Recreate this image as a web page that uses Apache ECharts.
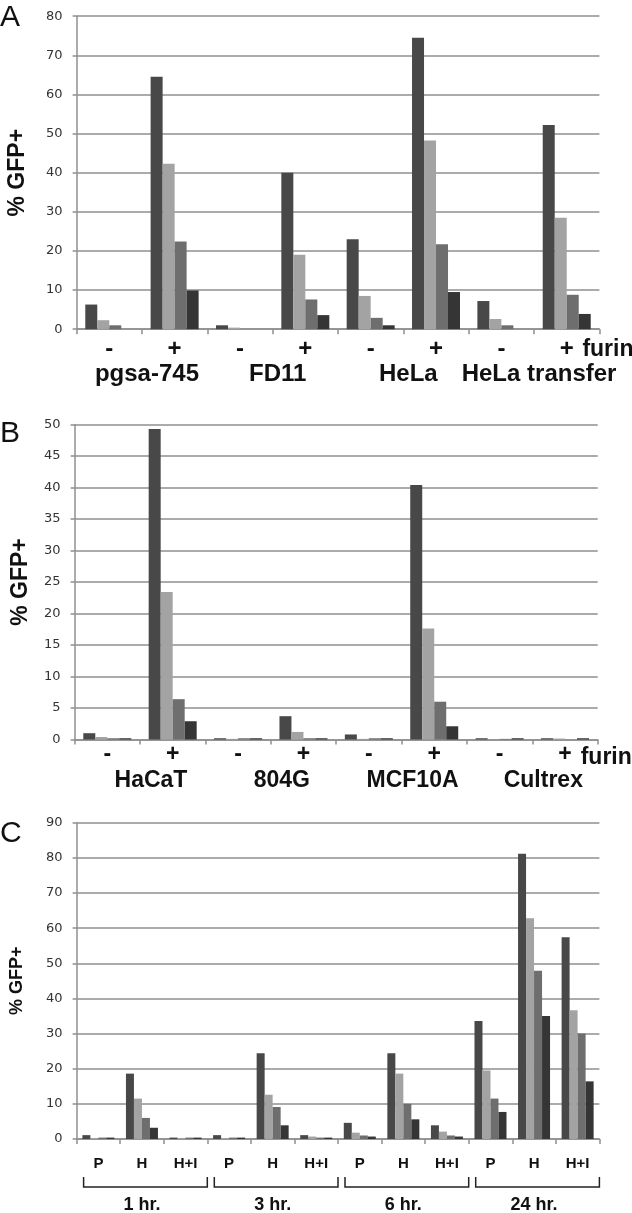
<!DOCTYPE html>
<html><head><meta charset="utf-8">
<script src="https://cdn.jsdelivr.net/npm/echarts@6/dist/echarts.min.js"></script>
<style>html,body{margin:0;padding:0;background:#fff}#c{width:632px;height:1213px}</style>
</head><body><div id="c"></div>
<script>
// ---- Panel A ----
const catsA = ['-', '+', '-', '+', '-', '+', '-', '+'];
const groupsA = ['pgsa-745', 'FD11', 'HeLa', 'HeLa transfer'];
const a1 = [6.3, 64.5, 1.0, 40.0, 23.0, 74.5, 7.2, 52.2];
const a2 = [2.3, 42.3, 0.4, 19.0, 8.5, 48.2, 2.6, 28.5];
const a3 = [1.0, 22.4, 0, 7.6, 2.9, 21.7, 1.0, 8.8];
const a4 = [0, 9.9, 0, 3.6, 1.0, 9.5, 0, 3.9];
const yA = [0, 80, 10];

// ---- Panel B ----
const catsB = ['-', '+', '-', '+', '-', '+', '-', '+'];
const groupsB = ['HaCaT', '804G', 'MCF10A', 'Cultrex'];
const b1 = [1.0, 49.3, 0.2, 3.7, 0.8, 40.4, 0.2, 0.2];
const b2 = [0.4, 23.4, 0.1, 1.2, 0.1, 17.6, 0, 0.15];
const b3 = [0.2, 6.4, 0.2, 0.2, 0.2, 6.0, 0.1, 0];
const b4 = [0.2, 2.9, 0.2, 0.2, 0.2, 2.1, 0.2, 0.2];
const yB = [0, 50, 5];

// ---- Panel C ----
const catsC = ['P', 'H', 'H+I', 'P', 'H', 'H+I', 'P', 'H', 'H+I', 'P', 'H', 'H+I'];
const groupsC = ['1 hr.', '3 hr.', '6 hr.', '24 hr.'];
const c1 = [1.1, 18.6, 0.4, 1.1, 24.4, 1.1, 4.6, 24.4, 3.9, 33.6, 81.2, 57.4];
const c2 = [0.3, 11.5, 0.3, 0.3, 12.6, 0.7, 1.8, 18.6, 2.1, 19.5, 62.8, 36.6];
const c3 = [0.4, 6.0, 0.4, 0.4, 9.1, 0.4, 1.0, 10.0, 1.0, 11.5, 47.9, 30.0];
const c4 = [0.4, 3.2, 0.4, 0.4, 3.9, 0.4, 0.7, 5.6, 0.7, 7.7, 35.0, 16.4];
const yC = [0, 90, 10];

const colors = ['#484848', '#a3a3a3', '#6e6e6e', '#353535'];
const GRID = '#8f8f8f';
const BOLD = 'Liberation Sans';

const chart = echarts.init(document.getElementById('c'), null, {renderer: 'canvas'});

function yAxis(grid, r, nameSize, nameGap) {
  return {
    type: 'value', gridIndex: grid, min: r[0], max: r[1], interval: r[2],
    name: '% GFP+', nameLocation: 'middle', nameGap: nameGap,
    nameTextStyle: {fontFamily: BOLD, fontWeight: 'bold', fontSize: nameSize, color: '#111'},
    axisLine: {show: true, lineStyle: {color: GRID, width: 1.5}},
    axisTick: {show: true, length: 4, lineStyle: {color: GRID, width: 1.5}},
    axisLabel: {margin: 14, fontFamily: 'DejaVu Sans', fontSize: 13, color: '#333'},
    splitLine: {show: true, lineStyle: {color: GRID, width: 1.5}}
  };
}
function xMain(grid, cats, size, margin, furin, furinPad) {
  const ax = {
    type: 'category', gridIndex: grid, data: cats, position: 'bottom',
    axisLine: {show: true, onZero: false, lineStyle: {color: GRID, width: 1.5}},
    axisTick: {show: true, length: 5, alignWithLabel: false, lineStyle: {color: GRID, width: 1.5}},
    axisLabel: {margin: margin, interval: 0, fontFamily: BOLD, fontWeight: 'bold', fontSize: size, color: '#111'},
    splitLine: {show: false}
  };
  if (furin) {
    ax.name = 'furin';
    ax.nameLocation = 'end';
    ax.nameGap = -17;
    ax.nameTextStyle = {fontFamily: BOLD, fontWeight: 'bold', fontSize: 23, color: '#111',
      verticalAlign: 'top', padding: furinPad};
  }
  return ax;
}
function xGroup(grid, groups, size, margin, shift) {
  return {
    type: 'category', gridIndex: grid, data: groups, position: 'bottom',
    axisLine: {show: false}, axisTick: {show: false}, splitLine: {show: false},
    axisLabel: {margin: margin, interval: 0, fontFamily: BOLD, fontWeight: 'bold', fontSize: size, color: '#111',
      padding: [0, 0, 0, shift]}
  };
}
function bars(xi, yi, arrs, w) {
  return arrs.map((d, i) => ({
    type: 'bar', xAxisIndex: xi, yAxisIndex: yi, data: d, barWidth: w, barGap: '0%',
    itemStyle: {color: colors[i]}, silent: true, animation: false
  }));
}

const option = {
  backgroundColor: '#fff',
  animation: false,
  grid: [
    {left: 76.6, top: 16.2, width: 522.8, height: 313, outerBoundsMode: 'none'},
    {left: 74.6, top: 424.5, width: 523.1, height: 315, outerBoundsMode: 'none'},
    {left: 76.6, top: 822.7, width: 522.8, height: 316.3, outerBoundsMode: 'none'}
  ],
  xAxis: [
    xMain(0, catsA, 24, 8, true, [9, 0, 0, 0]),
    xGroup(0, groupsA, 24, 33, 10),
    xMain(1, catsB, 23, 4, true, [7, 0, 0, 0]),
    xGroup(1, groupsB, 23, 30, 22),
    xMain(2, catsC, 15, 17, false),
    xGroup(2, groupsC, 18, 57, 0)
  ],
  yAxis: [
    yAxis(0, yA, 23, 47),
    yAxis(1, yB, 23, 42),
    yAxis(2, yC, 18, 51)
  ],
  series: [].concat(
    bars(0, 0, [a1, a2, a3, a4], 12),
    bars(2, 1, [b1, b2, b3, b4], 12),
    bars(4, 2, [c1, c2, c3, c4], 8)
  ),
  graphic: [
    {type: 'text', left: 0, top: 3, style: {text: 'A', font: '30px "Liberation Sans"', fill: '#111'}},
    {type: 'text', left: 0, top: 419, style: {text: 'B', font: '30px "Liberation Sans"', fill: '#111'}},
    {type: 'text', left: 0, top: 819, style: {text: 'C', font: '30px "Liberation Sans"', fill: '#111'}}
  ]
};
chart.setOption(option);

// brackets under panel C groups, positioned from the category scale
const p0 = chart.convertToPixel({xAxisIndex: 4}, 0);
const p1 = chart.convertToPixel({xAxisIndex: 4}, 1);
const bw = p1 - p0;
const yTop = 1177, yBot = 1187;
const brackets = [];
for (let g = 0; g < groupsC.length; g++) {
  const xs = p0 - bw / 2 + g * 3 * bw + 7;
  const xe = p0 - bw / 2 + (g + 1) * 3 * bw;
  brackets.push({
    type: 'polyline', silent: true,
    shape: {points: [[xs, yTop], [xs, yBot], [xe, yBot], [xe, yTop]]},
    style: {stroke: '#222', lineWidth: 1.5, fill: null}
  });
}
chart.setOption({graphic: option.graphic.concat(brackets)});
</script></body></html>
